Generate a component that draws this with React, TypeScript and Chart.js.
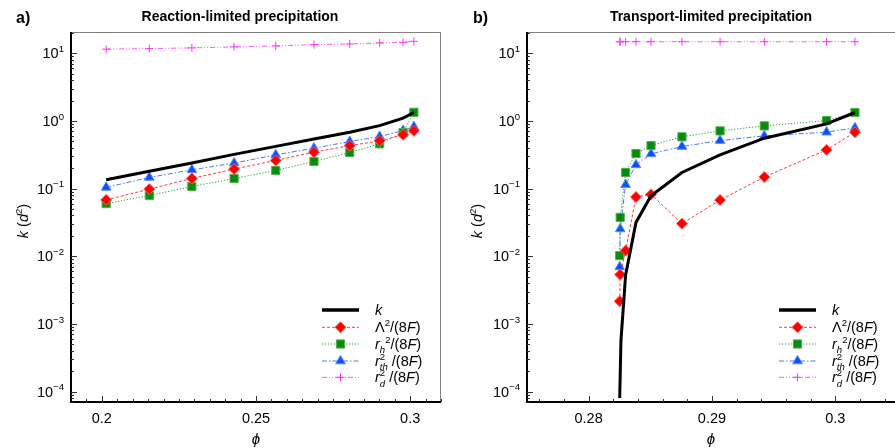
import React, { useEffect, useRef } from 'react';
import { Chart, registerables } from 'chart.js';
import { drawPoint } from 'chart.js/helpers';

Chart.register(...registerables);

// ---------- Panel a) Reaction-limited precipitation ----------
const phiA = [0.2014, 0.2154, 0.2292, 0.2429, 0.2564, 0.2688, 0.2804, 0.2901, 0.2977, 0.3012];
const kA = [0.135, 0.18, 0.238, 0.32, 0.42, 0.54, 0.68, 0.85, 1.1, 1.33];
const lambdaA = [0.068, 0.098, 0.141, 0.194, 0.26, 0.345, 0.43, 0.507, 0.622, 0.713];
const rhA = [0.06, 0.079, 0.107, 0.141, 0.185, 0.251, 0.34, 0.458, 0.673, 1.34];
const rthA = [0.104, 0.146, 0.189, 0.238, 0.315, 0.395, 0.495, 0.587, 0.72, 0.82];
const rdA = [11.5, 11.7, 12.0, 12.4, 12.8, 13.4, 13.7, 14.2, 14.5, 15.0];

// ---------- Panel b) Transport-limited precipitation ----------
const phiB = [0.28252, 0.28256, 0.283, 0.28384, 0.28506, 0.28757, 0.29066, 0.29425, 0.2993, 0.3016];
const phiKB = [0.28252, 0.28262, 0.283, 0.28384, 0.28506, 0.28757, 0.29066, 0.29425, 0.2993, 0.3016];
const kB = [8e-5, 5.6e-4, 0.0053, 0.0316, 0.078, 0.173, 0.315, 0.555, 0.903, 1.33];
const lambdaB = [0.00216, 0.00536, 0.0121, 0.075, 0.082, 0.0303, 0.0676, 0.148, 0.373, 0.681];
const rhB = [0.0102, 0.0375, 0.173, 0.33, 0.432, 0.581, 0.712, 0.844, 1.01, 1.33];
const rthB = [0.00695, 0.0253, 0.114, 0.224, 0.326, 0.418, 0.512, 0.601, 0.681, 0.789];
const rdB = [14.8, 14.8, 14.8, 14.8, 14.8, 14.8, 14.8, 14.8, 14.8, 14.8];

// ---------- Axes / labels ----------
const yExponents = [-4, -3, -2, -1, 0, 1];
const xTicksA = [0.2, 0.25, 0.3];
const xTickLabelsA = ['0.2', '0.25', '0.3'];
const xTicksB = [0.28, 0.29, 0.3];
const xTickLabelsB = ['0.28', '0.29', '0.3'];
const titles = ['Reaction-limited precipitation', 'Transport-limited precipitation'];
const tags = ['a)', 'b)'];

const FONT = '"Liberation Sans", Arial, Helvetica, sans-serif';

type Part = { t: string; it?: boolean; sup?: boolean; sub?: boolean; stack?: boolean };

const legendLabels: Part[][] = [
  [{ t: 'k', it: true }],
  [{ t: 'Λ' }, { t: '2', sup: true }, { t: '/(8' }, { t: 'F', it: true }, { t: ')' }],
  [{ t: 'r', it: true }, { t: 'h', it: true, sub: true }, { t: '2', sup: true }, { t: '/(8' }, { t: 'F', it: true }, { t: ')' }],
  [{ t: 'r', it: true }, { t: '2', sup: true, stack: true }, { t: 'th', it: true, sub: true }, { t: ' /(8' }, { t: 'F', it: true }, { t: ')' }],
  [{ t: 'r', it: true }, { t: '2', sup: true, stack: true }, { t: 'd', it: true, sub: true }, { t: ' /(8' }, { t: 'F', it: true }, { t: ')' }],
];

const STYLES = [
  { line: '#000000', width: 3, dash: [] as number[], style: false as any, r: 0, fill: '#000', edge: '#000' },
  { line: '#ff3b3b', width: 1, dash: [3, 2], style: 'rectRot', r: 5.5, fill: '#ff0000', edge: '#ff5a5a' },
  { line: '#33a833', width: 1, dash: [1.3, 1.7], style: 'rect', r: 5.8, fill: '#0a8a0a', edge: '#52b052' },
  { line: '#4a78ff', width: 1, dash: [5, 2, 1.5, 2], style: 'triangle', r: 5.6, fill: '#0a50ff', edge: '#5f88ff' },
  { line: '#ff55ff', width: 1, dash: [5, 2, 1, 2, 1, 2], style: 'cross', r: 4, fill: '#ff33ff', edge: '#ff33ff' },
];

function drawRich(ctx: CanvasRenderingContext2D, x: number, y: number, parts: Part[], size: number, draw = true) {
  let cx = x;
  let pend = 0;
  for (const p of parts) {
    const fs = p.sup || p.sub ? size * 0.66 : size;
    ctx.font = `${p.it ? 'italic ' : ''}${fs}px ${FONT}`;
    const dy = p.sup ? -size * 0.42 : p.sub ? size * 0.3 : 0;
    if (draw) ctx.fillText(p.t, cx, y + dy);
    const w = ctx.measureText(p.t).width;
    if (p.stack) pend = Math.max(pend, w);
    else {
      cx += Math.max(w, pend);
      pend = 0;
    }
  }
  return cx - x;
}

type PanelDef = {
  idx: number;
  phi: number[];
  phiK: number[];
  series: number[][]; // k, lambda, rh, rth, rd
  xMin: number;
  xMax: number;
  majorStep: number;
  minorStep: number;
  xTicks: number[];
  xTickLabels: string[];
  padLeft: number;
  padRight: number;
  rightBorder: boolean;
  tagX: number;
  titleX: number;
  yTitleX: number;
  legX1: number;
  legX2: number;
  legTextX: number;
};

const PANELS: PanelDef[] = [
  {
    idx: 0, phi: phiA, phiK: phiA, series: [kA, lambdaA, rhA, rthA, rdA],
    xMin: 0.19, xMax: 0.31, majorStep: 0.05, minorStep: 0.005,
    xTicks: xTicksA, xTickLabels: xTickLabelsA,
    padLeft: 71, padRight: 7, rightBorder: true,
    tagX: 16, titleX: 240, yTitleX: 23, legX1: 322, legX2: 359, legTextX: 375,
  },
  {
    idx: 1, phi: phiB, phiK: phiKB, series: [kB, lambdaB, rhB, rthB, rdB],
    xMin: 0.275, xMax: 0.30485, majorStep: 0.01, minorStep: 0.002,
    xTicks: xTicksB, xTickLabels: xTickLabelsB,
    padLeft: 79, padRight: 0, rightBorder: false,
    tagX: 25, titleX: 263, yTitleX: 29, legX1: 331, legX2: 368, legTextX: 384,
  },
];

const legendRowsY = [310, 327.3, 344, 361, 377.3];

function decorPlugin(p: PanelDef) {
  return {
    id: 'decor' + p.idx,
    afterDatasetsDraw(chart: any) {
      const ctx: CanvasRenderingContext2D = chart.ctx;
      const a = chart.chartArea;
      const xs = chart.scales.x;
      const ys = chart.scales.y;
      ctx.save();
      ctx.setLineDash([]);
      // frame
      ctx.strokeStyle = '#808080';
      ctx.lineWidth = 1;
      ctx.beginPath();
      ctx.moveTo(a.left, a.top + 0.5);
      ctx.lineTo(a.right, a.top + 0.5);
      if (p.rightBorder) {
        ctx.moveTo(a.right - 0.5, a.top);
        ctx.lineTo(a.right - 0.5, a.bottom);
      }
      ctx.stroke();
      ctx.strokeStyle = '#000';
      ctx.lineWidth = 2;
      ctx.beginPath();
      ctx.moveTo(a.left, a.top);
      ctx.lineTo(a.left, a.bottom);
      ctx.lineTo(a.right, a.bottom);
      ctx.stroke();

      // y ticks
      ctx.lineWidth = 1;
      ctx.strokeStyle = '#333';
      ctx.beginPath();
      for (let e = -5; e <= 2; e++) {
        for (let m = 1; m <= 9; m++) {
          const v = m * Math.pow(10, e);
          if (v < ys.min || v > ys.max) continue;
          const py = Math.round(ys.getPixelForValue(v)) + 0.5;
          const len = m === 1 ? 6 : 3;
          ctx.moveTo(a.left, py);
          ctx.lineTo(a.left + len, py);
        }
      }
      // x ticks
      const start = Math.ceil(p.xMin / p.minorStep - 1e-6);
      for (let i = start; i * p.minorStep <= p.xMax + 1e-9; i++) {
        const v = i * p.minorStep;
        const r = v / p.majorStep;
        const major = Math.abs(r - Math.round(r)) < 1e-6;
        const px = Math.round(xs.getPixelForValue(v)) + 0.5;
        if (px <= a.left + 1) continue;
        ctx.moveTo(px, a.bottom);
        ctx.lineTo(px, a.bottom - (major ? 6 : 3));
      }
      ctx.stroke();

      // y tick labels
      ctx.fillStyle = '#000';
      ctx.textBaseline = 'alphabetic';
      ctx.textAlign = 'left';
      const fs = 14.5;
      for (const e of yExponents) {
        const py = ys.getPixelForValue(Math.pow(10, e));
        const parts: Part[] = [{ t: '10' }, { t: e < 0 ? '−' + -e : String(e), sup: true }];
        const w = drawRich(ctx, 0, 0, parts, fs, false);
        drawRich(ctx, a.left - 7 - w, py + 5, parts, fs);
      }
      // x tick labels
      ctx.textAlign = 'center';
      ctx.font = `${fs}px ${FONT}`;
      p.xTicks.forEach((v, i) => {
        ctx.fillText(p.xTickLabels[i], xs.getPixelForValue(v), a.bottom + 21);
      });
      // x title
      ctx.font = `italic 15px ${FONT}`;
      ctx.fillText('ϕ', (a.left + a.right) / 2, 444);

      // y title rotated
      ctx.save();
      const yc = (a.top + a.bottom) / 2 + 4;
      ctx.translate(p.yTitleX + 5, yc);
      ctx.rotate(-Math.PI / 2);
      ctx.textAlign = 'left';
      const yParts: Part[] = [{ t: 'k', it: true }, { t: ' (' }, { t: 'd', it: true }, { t: '2', sup: true }, { t: ')' }];
      const yw = drawRich(ctx, 0, 0, yParts, fs, false);
      drawRich(ctx, -yw / 2, 0, yParts, fs);
      ctx.restore();

      // panel tag and title
      ctx.textAlign = 'left';
      ctx.font = `bold 16px ${FONT}`;
      ctx.fillText(tags[p.idx], p.tagX, 23);
      ctx.textAlign = 'center';
      ctx.font = `bold 14px ${FONT}`;
      ctx.fillText(titles[p.idx], p.titleX, 21);

      // legend
      ctx.textAlign = 'left';
      STYLES.forEach((s, i) => {
        const y = legendRowsY[i];
        ctx.save();
        ctx.strokeStyle = s.line;
        ctx.lineWidth = i === 0 ? 3.5 : s.width;
        ctx.setLineDash(s.dash);
        ctx.beginPath();
        ctx.moveTo(p.legX1, y);
        ctx.lineTo(p.legX2, y);
        ctx.stroke();
        ctx.restore();
        if (s.style) {
          ctx.save();
          ctx.setLineDash([]);
          ctx.fillStyle = s.fill;
          ctx.strokeStyle = s.edge;
          ctx.lineWidth = 1;
          drawPoint(ctx, { pointStyle: s.style, radius: s.r, rotation: 0, borderWidth: 1 } as any, (p.legX1 + p.legX2) / 2, y);
          ctx.restore();
        }
        ctx.fillStyle = '#000';
        drawRich(ctx, p.legTextX, y + 5, legendLabels[i], fs);
      });
      ctx.restore();
    },
  };
}

function buildConfig(p: PanelDef): any {
  const datasets = STYLES.map((s, i) => {
    const xs = i === 0 ? p.phiK : p.phi;
    return {
      label: 'series' + i,
      data: xs.map((x, j) => ({ x, y: p.series[i][j] })),
      borderColor: s.line,
      borderWidth: s.width,
      borderDash: s.dash,
      pointStyle: s.style,
      pointRadius: s.r,
      pointBackgroundColor: s.fill,
      pointBorderColor: s.edge,
      pointBorderWidth: 1,
      showLine: true,
      tension: 0,
      fill: false,
    };
  });
  return {
    type: 'line',
    data: { datasets },
    options: {
      responsive: false,
      animation: false,
      events: [],
      layout: { autoPadding: false, padding: { left: p.padLeft, right: p.padRight, top: 32, bottom: 46 } },
      scales: {
        x: { type: 'linear', min: p.xMin, max: p.xMax, display: false },
        y: { type: 'logarithmic', min: 7.2e-5, max: 20.6, display: false },
      },
      plugins: {
        legend: { display: false },
        tooltip: { enabled: false },
        title: { display: false },
      },
    },
    plugins: [decorPlugin(p)],
  };
}

export default function App() {
  const refA = useRef<HTMLCanvasElement>(null);
  const refB = useRef<HTMLCanvasElement>(null);
  useEffect(() => {
    const ca = new Chart(refA.current as HTMLCanvasElement, buildConfig(PANELS[0]));
    const cb = new Chart(refB.current as HTMLCanvasElement, buildConfig(PANELS[1]));
    return () => {
      ca.destroy();
      cb.destroy();
    };
  }, []);
  return (
    <div style={{ position: 'fixed', left: 0, top: 0, width: 895, height: 448, background: '#fff', overflow: 'hidden' }}>
      <canvas ref={refA} width={448} height={448} style={{ position: 'absolute', left: 0, top: 0, width: 448, height: 448 }} />
      <canvas ref={refB} width={447} height={448} style={{ position: 'absolute', left: 448, top: 0, width: 447, height: 448 }} />
    </div>
  );
}
